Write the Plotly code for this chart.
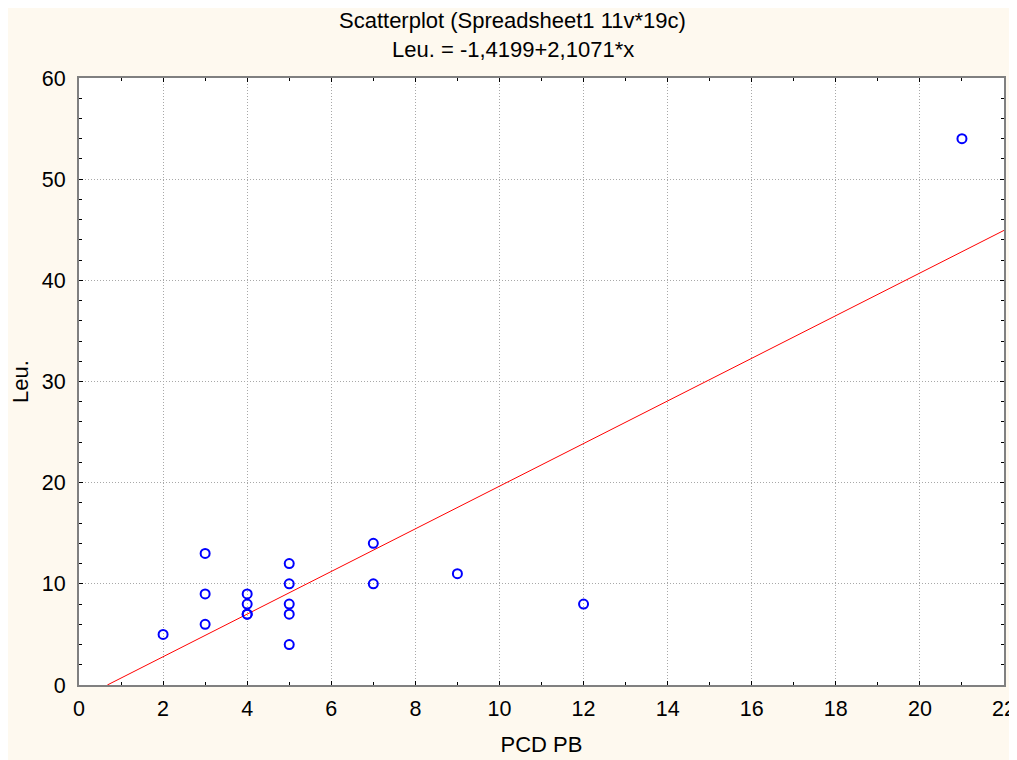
import plotly.graph_objects as go
import numpy as np

# Data
pcd_pb = [2, 3, 3, 3, 4, 4, 4, 4, 5, 5, 5, 5, 5, 7, 7, 9, 12, 21]
leu = [5, 13, 9, 6, 9, 8, 7, 7, 12, 10, 8, 7, 4, 14, 10, 11, 8, 54]

# Regression parameters (from the chart title)
intercept = -1.4199
slope = 2.1071

x_range = [0, 22]
y_range = [0, 60]
x_ticks = list(range(0, 23, 2))
y_ticks = list(range(0, 61, 10))

title_line1 = "Scatterplot (Spreadsheet1 11v*19c)"
title_line2 = "Leu. = -1,4199+2,1071*x"

FONT = "Liberation Sans, Arial, sans-serif"
CREAM = "#FEF9EF"

# Regression line over the x range, clipped at y=0
x0 = max(x_range[0], -intercept / slope)
line_x = np.array([x0, x_range[1]])
line_y = intercept + slope * line_x

fig = go.Figure()
fig.add_trace(go.Scatter(
    x=line_x, y=line_y, mode="lines",
    line=dict(color="#FF0000", width=1),
    hoverinfo="skip", showlegend=False,
))
fig.add_trace(go.Scatter(
    x=pcd_pb, y=leu, mode="markers",
    marker=dict(symbol="circle-open", size=9, color="#0000FF",
                line=dict(width=2, color="#0000FF")),
    showlegend=False,
))

axis_common = dict(
    showline=True, linecolor="#808080", linewidth=2, mirror="ticks",
    ticks="inside", ticklen=4, tickcolor="#000000", tickwidth=1,
    showgrid=True, gridcolor="#A8A8A8", griddash="1px,2px", gridwidth=1,
    zeroline=False, automargin=False,
    tickfont=dict(family=FONT, size=21.5, color="#000000"),
    title_font=dict(family=FONT, size=22, color="#000000"),
)

fig.update_xaxes(
    range=x_range, tickvals=x_ticks, title_text="PCD PB",
    minor=dict(dtick=1, ticks="inside", ticklen=3, tickcolor="#000000", showgrid=False),
    ticklabelstandoff=3, title_standoff=17,
    **axis_common,
)
fig.update_yaxes(
    range=y_range, tickvals=y_ticks, title_text="Leu.",
    minor=dict(dtick=2, ticks="inside", ticklen=3, tickcolor="#000000", showgrid=False),
    ticklabelstandoff=7, title_standoff=22,
    **axis_common,
)

fig.update_layout(
    width=1017, height=760,
    margin=dict(l=71, r=21, t=70, b=83),
    paper_bgcolor=CREAM, plot_bgcolor="#FFFFFF",
)

# Two-line title as annotations above the plot area
plot_h = 760 - 70 - 83
for text, fig_y in ((title_line1, 12.5), (title_line2, 41.5)):
    fig.add_annotation(
        text=text, showarrow=False,
        xref="paper", yref="paper",
        x=(504.5 - 71) / (1017 - 71 - 21), xanchor="center",
        y=1 + (70 - fig_y) / plot_h, yanchor="middle",
        font=dict(family=FONT, size=22, color="#000000"),
    )

fig.write_html("out.html")
